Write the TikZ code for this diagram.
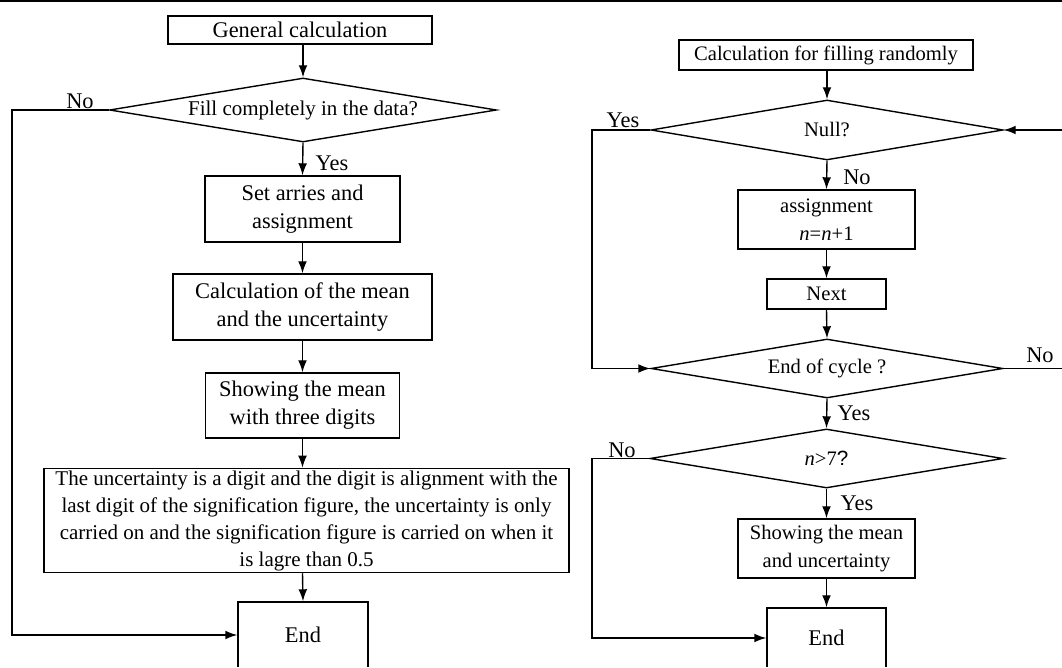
\documentclass[tikz,border=0pt]{standalone}
\usepackage{fontspec}
\setmainfont{Liberation Serif}
\newfontfamily\sansq{Liberation Sans}
\usetikzlibrary{shapes.geometric,arrows.meta}
\begin{document}
\begin{tikzpicture}[x=0.5pt,y=-0.5pt,
  line width=0.7pt,
  every node/.style={font=\fontsize{10.5}{13.5}\selectfont},
  big/.style={font=\fontsize{11.2}{14}\selectfont},
  sml/.style={font=\fontsize{10.3}{14}\selectfont},
  box/.style={draw,rectangle,inner sep=1pt,align=center},
  dia/.style={draw,diamond,aspect=8,inner sep=0pt},
  arr/.style={-{Latex[length=6pt,width=4.4pt]}},
  lbl/.style={inner sep=0pt,font=\fontsize{11.2}{13}\selectfont}]
\useasboundingbox (0,0) rectangle (1062,668);
\clip (0,-2) rectangle (1062,667);
\draw[line width=1pt] (0,1) -- (1062,1);
% left column
\node[box,big,minimum width=132pt,minimum height=14pt] (gen) at (300,30) {General calculation};
\node[dia,minimum width=193.5pt,minimum height=32pt] (fill) at (303,110) {Fill completely in the data?};
\node[box,big,minimum width=97.5pt,minimum height=33pt] (set) at (302.5,209) {Set arries and\\assignment};
\node[box,big,minimum width=129.5pt,minimum height=33pt] (calc) at (302.5,307) {Calculation of the mean\\and the uncertainty};
\node[box,big,minimum width=97pt,minimum height=32.5pt] (show) at (302.5,405.5) {Showing the mean\\with three digits};
\node[box,minimum width=262.5pt,minimum height=48.5pt] (long) at (306.5,520.5) {The uncertainty is a digit and the digit is alignment with the\\last digit of the signification figure, the uncertainty is only\\carried on and the signification figure is carried on when it\\is lagre than 0.5};
\node[box,big,minimum width=65pt,minimum height=33pt] (end) at (303,635) {End};
\coordinate (lc) at (12,635);
\draw[arr] (fill.north |- gen.south) -- (fill.north);
\draw[arr] (fill.south) -- (set.north);
\draw[arr] (set.south) -- (calc.north);
\draw[arr] (calc.south) -- (show.north);
\draw[arr] (show.south) -- (show.south |- long.north);
\draw[arr] (show.south |- long.south) -- (end.north);
\draw[arr] (fill.west) -| (lc) -- (end.west);
\node[lbl] (lno) at (80,101) {No};
\node[lbl] (lyes) at (332,163) {Yes};
% right column
\node[box,sml,minimum width=147pt,minimum height=15pt] (cfr) at (826,55) {Calculation for filling randomly};
\node[dia,sml,minimum width=176pt,minimum height=30pt] (null) at (827,130) {Null?};
\node[box,sml,minimum width=88.5pt,minimum height=29.5pt] (assign) at (826.5,219.5) {assignment\\\textit{n}=\textit{n}+1};
\node[box,sml,minimum width=59.5pt,minimum height=15pt] (next) at (826.5,294) {Next};
\node[dia,sml,minimum width=176pt,minimum height=29.5pt] (eoc) at (827,368.5) {End of cycle ?};
\node[dia,sml,minimum width=176.5pt,minimum height=29.5pt] (n7) at (826.5,458.5) {\textit{n}>7{\sansq ?}};
\node[box,sml,minimum width=88.5pt,minimum height=29.5pt] (smu) at (826.5,548.5) {Showing the mean\\and uncertainty};
\node[box,big,minimum width=59.5pt,minimum height=30pt] (end2) at (826.5,638) {End};
\coordinate (ry) at (592,368.5);
\coordinate (rr) at (1066,130);
\coordinate (rn) at (592,638);
\draw[arr] (null.north |- cfr.south) -- (null.north);
\draw[arr] (null.south) -- (assign.north);
\draw[arr] (assign.south) -- (next.north);
\draw[arr] (next.south) -- (eoc.north);
\draw[arr] (eoc.south) -- (n7.north);
\draw[arr] (n7.south) -- (smu.north);
\draw[arr] (smu.south) -- (end2.north);
\draw[arr] (null.west) -| (ry) -- (eoc.west);
\draw[arr] (eoc.east) -| (rr) -- (null.east);
\draw[arr] (n7.west) -| (rn) -- (end2.west);
\node[lbl] (ryes1) at (623,120) {Yes};
\node[lbl] (rno1) at (857,177) {No};
\node[lbl] (rno2) at (1040,355) {No};
\node[lbl] (ryes2) at (854,413) {Yes};
\node[lbl] (rno3) at (622,450) {No};
\node[lbl] (ryes3) at (857,503) {Yes};
\end{tikzpicture}
\end{document}
